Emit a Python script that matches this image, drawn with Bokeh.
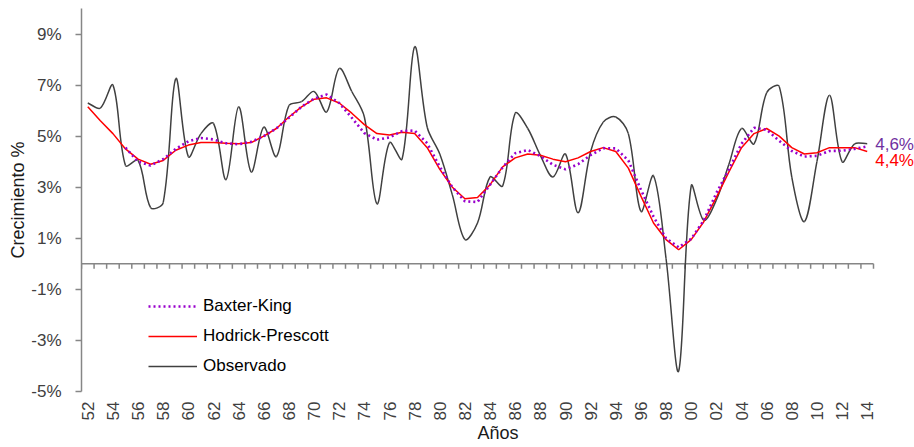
import numpy as np
from math import pi
from bokeh.plotting import figure
from bokeh.models import (Range1d, FixedTicker, PrintfTickFormatter, Legend,
                          LegendItem, Label)
from bokeh.embed import file_html
from bokeh.resources import INLINE

# ---------------- data ----------------
years = list(range(1952, 2015))
observado = [6.3, 6.1, 7.0, 3.85, 4.05, 2.2, 2.4, 7.25, 4.2, 5.1,
             5.5, 3.3, 6.15, 3.6, 5.35, 4.2, 6.2, 6.35, 6.75, 5.95,
             7.65, 6.75, 5.75, 2.35, 4.75, 4.1, 8.5, 5.35, 4.3, 2.7,
             0.95, 1.6, 3.4, 3.05, 5.9, 5.3, 4.25, 3.4, 4.3, 2.0,
             4.4, 5.55, 5.75, 5.1, 2.05, 3.45, 0.2, -4.2, 3.05, 1.7,
             2.5, 3.9, 5.3, 4.7, 6.7, 6.95, 3.4, 1.65, 4.0, 6.6,
             4.0, 4.7, 4.7]
hodrick_prescott = [6.15, 5.6, 5.1, 4.5, 4.1, 3.9, 4.05, 4.45, 4.65, 4.75,
                    4.75, 4.72, 4.7, 4.75, 5.0, 5.3, 5.75, 6.15, 6.45, 6.5,
                    6.3, 5.9, 5.45, 5.1, 5.05, 5.15, 5.1, 4.55, 3.7, 3.0,
                    2.55, 2.6, 3.1, 3.8, 4.15, 4.3, 4.25, 4.1, 4.0, 4.15,
                    4.4, 4.55, 4.4, 3.75, 2.65, 1.6, 0.95, 0.55, 0.95, 1.65,
                    2.6, 3.6, 4.55, 5.1, 5.3, 5.0, 4.55, 4.3, 4.35, 4.55,
                    4.55, 4.55, 4.4]
bk_years = list(range(1955, 2015))
baxter_king = [4.55, 4.0, 3.85, 4.1, 4.5, 4.8, 4.93, 4.87, 4.72, 4.68,
               4.78, 5.0, 5.3, 5.72, 6.15, 6.47, 6.63, 6.3, 5.72, 5.12,
               4.86, 4.95, 5.2, 5.22, 4.72, 3.8, 3.0, 2.45, 2.42, 3.1,
               3.78, 4.33, 4.46, 4.22, 3.88, 3.7, 3.9, 4.26, 4.53, 4.52,
               4.05, 2.9, 1.85, 1.0, 0.65, 0.98, 1.7, 2.77, 3.7, 4.7,
               5.33, 5.25, 4.82, 4.42, 4.2, 4.23, 4.42, 4.43, 4.5, 4.6]
tick_years = list(range(1952, 2015, 2))
tick_labels = ["52", "54", "56", "58", "60", "62", "64", "66", "68", "70",
               "72", "74", "76", "78", "80", "82", "84", "86", "88", "90",
               "92", "94", "96", "98", "00", "02", "04", "06", "08", "10",
               "12", "14"]
y_ticks = [-5, -3, -1, 1, 3, 5, 7, 9]

FONT = "Liberation Sans"
AXIS_GRAY = "#868686"
TEXT = "#404040"

# layout (pixels)
W, H = 914, 447
LEFT, TOP, BOTTOM = 81, 8, 56
AXIS_W = 792                      # width of the category axis
frame_w = W - LEFT
frame_h = H - TOP - BOTTOM
n_cat = len(years)
x_start = years[0] - 0.5
x_end = x_start + n_cat * frame_w / AXIS_W   # room on the right for end labels
Y0, Y1 = -5, 10

p = figure(width=W, height=H, output_backend="svg", toolbar_location=None,
           x_range=Range1d(x_start, x_end), y_range=Range1d(Y0, Y1),
           min_border_left=LEFT, min_border_right=0, min_border_top=TOP,
           min_border_bottom=BOTTOM)
p.grid.visible = False
p.outline_line_color = None
p.background_fill_color = "white"
p.border_fill_color = "white"

# y axis
yax = p.yaxis[0]
yax.ticker = FixedTicker(ticks=y_ticks, minor_ticks=[])
yax.formatter = PrintfTickFormatter(format="%d%%")
yax.axis_line_color = AXIS_GRAY
yax.axis_line_width = 1.5
yax.major_tick_line_color = AXIS_GRAY
yax.major_tick_line_width = 1.5
yax.major_tick_in = 0
yax.major_tick_out = 6
yax.minor_tick_line_color = None
yax.major_label_text_font = FONT
yax.major_label_text_font_size = "17px"
yax.major_label_text_color = TEXT
yax.major_label_standoff = 14
yax.axis_label = "Crecimiento %"
yax.axis_label_text_font = FONT
yax.axis_label_text_font_size = "18px"
yax.axis_label_text_font_style = "normal"
yax.axis_label_text_color = "#1a1a1a"
yax.axis_label_standoff = 0

# x axis (labels only)
xax = p.xaxis[0]
xax.ticker = FixedTicker(ticks=tick_years, minor_ticks=[])
xax.major_label_overrides = {y: l for y, l in zip(tick_years, tick_labels)}
xax.major_label_orientation = pi / 2
xax.axis_line_color = None
xax.major_tick_line_color = None
xax.minor_tick_line_color = None
xax.major_tick_in = 0
xax.major_tick_out = 0
xax.major_label_standoff = 10
xax.major_label_text_font = FONT
xax.major_label_text_font_size = "17px"
xax.major_label_text_color = TEXT
xax.axis_label = "Años"
xax.axis_label_text_font = FONT
xax.axis_label_text_font_size = "18px"
xax.axis_label_text_font_style = "normal"
xax.axis_label_text_color = "#1a1a1a"
xax.axis_label_standoff = 0

# zero line with category ticks
bounds = [y - 0.5 for y in years] + [years[-1] + 0.5]
p.segment(x0=[bounds[0]], y0=[0], x1=[bounds[-1]], y1=[0],
          line_color=AXIS_GRAY, line_width=1.5)
p.ray(x=bounds, y=[0] * len(bounds), length=5, length_units="screen",
      angle=-pi / 2, line_color=AXIS_GRAY, line_width=1.5)

# observed: smoothed curve (bezier through the data points, tangents
# weighted by neighbouring segment lengths in screen space)
px_x = AXIS_W / n_cat
px_y = frame_h / (Y1 - Y0)
x = np.array(years, dtype=float)
y = np.array(observado, dtype=float)
xp = np.concatenate([[x[0]], x, [x[-1]]])
yp = np.concatenate([[y[0]], y, [y[-1]]])
seg = np.hypot(np.diff(xp) * px_x, np.diff(yp) * px_y)   # len n+1
seg = np.where(seg == 0, 1e-9, seg)
i = np.arange(len(x) - 1)
d_prev, d_cur, d_next = seg[i], seg[i + 1], seg[i + 2]
f0 = d_cur / (d_prev + d_cur) / 3
f1 = d_cur / (d_cur + d_next) / 3
cx0 = x[i] + (x[i + 1] - xp[i]) * f0
cy0 = y[i] + (y[i + 1] - yp[i]) * f0
cx1 = x[i + 1] - (xp[i + 3] - x[i]) * f1
cy1 = y[i + 1] - (yp[i + 3] - y[i]) * f1
r_obs = p.bezier(x0=x[:-1], y0=y[:-1], x1=x[1:], y1=y[1:],
                 cx0=cx0, cy0=cy0, cx1=cx1, cy1=cy1,
                 line_color="#404040", line_width=1.5)

r_hp = p.line(years, hodrick_prescott, line_color="#FF0000", line_width=1.5)
r_bk = p.line(bk_years, baxter_king, line_color="#9900CC", line_width=2.6,
              line_dash="2 3")

legend = Legend(items=[LegendItem(label="Baxter-King", renderers=[r_bk]),
                       LegendItem(label="Hodrick-Prescott", renderers=[r_hp]),
                       LegendItem(label="Observado", renderers=[r_obs])],
                location=(67, 15), padding=0, margin=0, spacing=10,
                glyph_width=49, glyph_height=20, label_height=20,
                label_standoff=6, label_text_font=FONT,
                label_text_font_size="17px", label_text_color="#000000",
                border_line_color=None, background_fill_alpha=0)
p.add_layout(legend)

bk_txt = f"{baxter_king[-1]:.1f}%".replace(".", ",")
hp_txt = f"{hodrick_prescott[-1]:.1f}%".replace(".", ",")
p.add_layout(Label(x=bk_years[-1], y=baxter_king[-1], x_offset=8, y_offset=2,
                   text=bk_txt, text_font=FONT, text_font_size="17px",
                   text_baseline="middle", text_color="#7030A0"))
p.add_layout(Label(x=years[-1], y=hodrick_prescott[-1], x_offset=8, y_offset=-9,
                   text=hp_txt, text_font=FONT, text_font_size="17px",
                   text_baseline="middle", text_color="#FF0000"))

open("out.html", "w").write(file_html(p, INLINE))
